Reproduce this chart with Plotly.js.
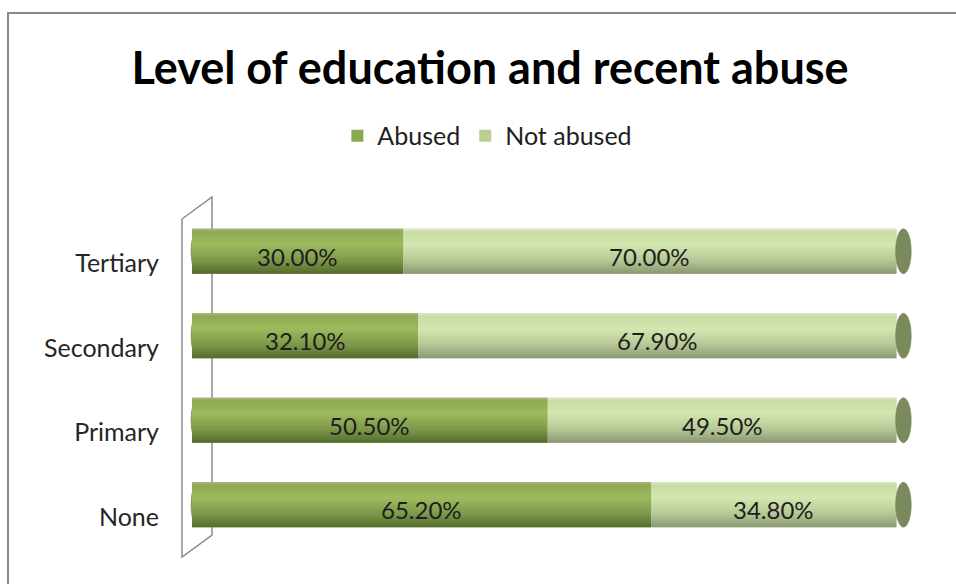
<!DOCTYPE html>
<html>
<head>
<meta charset="utf-8">
<script src="https://cdn.plot.ly/plotly-3.0.1.min.js"></script>
<style>
html,body{margin:0;padding:0;background:#fff;overflow:hidden;}
#wrap{position:relative;width:956px;height:584px;}
#chart{position:absolute;left:0;top:0;width:956px;height:584px;}
#frame{position:absolute;left:7px;top:12px;width:1000px;height:1000px;border:2px solid #878787;pointer-events:none;}
</style>
</head>
<body>
<div id="wrap"><div id="chart"></div><div id="frame"></div></div>
<script>
// ---- data ----
const categories = ['None', 'Primary', 'Secondary', 'Tertiary'];
const abused = [65.2, 50.5, 32.1, 30.0];
const notAbused = [34.8, 49.5, 67.9, 70.0];
const seriesNames = ['Abused', 'Not abused'];

// ---- styles ----
const FONT = 'Lato, "Open Sans", sans-serif';
const W = 0.53; // bar thickness (category units)
const NB = 30;  // shading bands per bar
const abusedStops = [[0, '#a9b98c'], [0.06, '#8ea952'], [0.35, '#9dbb5e'], [0.7, '#7e984a'], [1, '#526a2c']];
const notStops = [[0, '#e2ead0'], [0.06, '#c9dca3'], [0.35, '#d4e7b0'], [0.7, '#b7c897'], [1, '#889770']];

function hex2rgb(h) { return [1, 3, 5].map(k => parseInt(h.substr(k, 2), 16)); }
function colorAt(stops, t) {
  for (let k = 0; k < stops.length - 1; k++) {
    const [t0, c0] = stops[k], [t1, c1] = stops[k + 1];
    if (t <= t1) {
      const f = (t - t0) / (t1 - t0), a = hex2rgb(c0), b = hex2rgb(c1);
      return 'rgb(' + a.map((v, j) => Math.round(v + (b[j] - v) * f)).join(',') + ')';
    }
  }
  return stops[stops.length - 1][1];
}

const traces = [];
function addSeries(vals, bases, stops, legendColor, name) {
  traces.push({
    type: 'bar', orientation: 'h', name: name, y: categories, x: vals, base: bases,
    width: W, marker: {color: legendColor, line: {width: 0}}, hoverinfo: 'skip', showlegend: true
  });
  const bw = W / NB;
  for (let i = NB - 1; i >= 0; i--) {
    traces.push({
      type: 'bar', orientation: 'h', y: categories, x: vals, base: bases,
      offset: W / 2 - (i + 1) * bw, width: bw + (i > 0 ? 0.006 : 0),
      marker: {color: colorAt(stops, (i + 0.5) / NB), line: {width: 0}}, hoverinfo: 'skip', showlegend: false
    });
  }
}
const zeros = abused.map(() => 0);
addSeries(abused, zeros, abusedStops, '#8aa84f', seriesNames[0]);
addSeries(notAbused, abused, notStops, '#b9d08f', seriesNames[1]);

const annotations = [];
categories.forEach((c, i) => {
  annotations.push({x: abused[i] / 2, y: c, xref: 'x', yref: 'y', text: abused[i].toFixed(2) + '%',
    showarrow: false, yshift: -5, font: {family: FONT, size: 24, color: '#1e1e1e'}});
  annotations.push({x: abused[i] + notAbused[i] / 2, y: c, xref: 'x', yref: 'y', text: notAbused[i].toFixed(2) + '%',
    showarrow: false, yshift: -5, font: {family: FONT, size: 24, color: '#1e1e1e'}});
});

const shapes = [];
// 3D wall on the category axis
shapes.push({type: 'path', xref: 'paper', yref: 'paper', layer: 'below',
  path: 'M-0.0041,0.9704 L0.0370,1.0355 L0.0370,0.0355 L-0.0041,-0.0296 Z',
  line: {color: '#8c8c8c', width: 1.5}, fillcolor: 'rgba(0,0,0,0)'});
// cylinder ends
categories.forEach((c, i) => {
  const total = abused[i] + notAbused[i];
  shapes.push({type: 'circle', xref: 'x', yref: 'y', layer: 'above',
    x0: total - 0.1, x1: total + 2.1, y0: i - W / 2, y1: i + W / 2,
    fillcolor: '#7b8a5d', line: {color: '#6e7c52', width: 0.6}});
  shapes.push({type: 'circle', xref: 'x', yref: 'y', layer: 'below',
    x0: -0.2, x1: 1.6, y0: i - W / 2 + 0.01, y1: i + W / 2 - 0.01,
    fillcolor: '#87a350', line: {width: 0}});
});

const layout = {
  width: 956, height: 584,
  margin: {l: 185, r: 42, t: 209, b: 37},
  paper_bgcolor: '#ffffff', plot_bgcolor: 'rgba(0,0,0,0)',
  barmode: 'overlay',
  title: {text: '<b>Level of education and recent abuse</b>', xref: 'container', yref: 'container',
    x: 0.5126, xanchor: 'center', y: 1 - 68 / 584, yanchor: 'middle',
    font: {family: FONT, size: 45, color: '#000000'}},
  showlegend: true,
  legend: {orientation: 'h', x: 0.209, xanchor: 'left', y: 1.216, yanchor: 'middle',
    font: {family: FONT, size: 25, color: '#1e1e1e'}, itemclick: false, itemdoubleclick: false,
    traceorder: 'normal'},
  xaxis: {range: [-1, 102.5], visible: false, fixedrange: true},
  yaxis: {type: 'category', categoryorder: 'array', categoryarray: categories, range: [-0.5, 3.5],
    showgrid: false, zeroline: false, showline: false, ticks: '',
    ticklabelstandoff: 25, ticklabelshift: 12,
    tickfont: {family: FONT, size: 25, color: '#262626'}, fixedrange: true},
  annotations: annotations,
  shapes: shapes
};

Plotly.newPlot('chart', traces, layout, {displayModeBar: false, staticPlot: true});
</script>
</body>
</html>
